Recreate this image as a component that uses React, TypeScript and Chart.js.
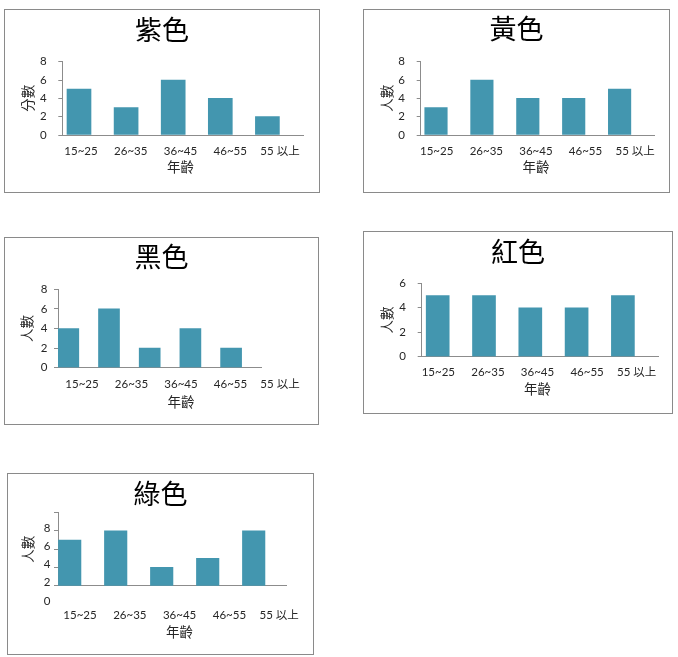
import React, { useEffect, useRef } from 'react';
import { Chart, registerables } from 'chart.js';

Chart.register(...registerables);

// ---- data ----
const ageGroups = ['15~25', '26~35', '36~45', '46~55', '55 以上'];
const purpleCounts = [5, 3, 6, 4, 2];
const yellowCounts = [3, 6, 4, 4, 5];
const blackCounts = [4, 6, 2, 4, 2];
const redCounts = [5, 5, 4, 4, 5];
const greenCounts = [7, 8, 4, 5, 8];
const ticksTo8 = [0, 2, 4, 6, 8];
const ticksTo6 = [0, 2, 4, 6];
const greenTicks = [0, 2, 4, 6, 8, 10];
const xTitle = '年齡';

// ---- styles ----
const BAR_COLOR = 'rgb(67,150,175)';
const AXIS_COLOR = '#8c8c8c';
const TEXT_COLOR = '#262626';
const LATIN = 'Lato, "Noto Sans CJK TC", sans-serif';
const CJK = '"Noto Sans CJK TC", "Noto Sans CJK SC", sans-serif';
const TITLE_SIZE = 27;
const TICK_SIZE = 11.5;
const AXIS_TITLE_SIZE = 13.5;

type PanelSpec = {
  title: string;
  yTitle: string;
  values: number[];
  yTicks: number[];
  yMin: number;
  yMax: number;
  yLabelMax?: number;
  yLabelShift: number;
  box: number[]; // l, t, r, b (page px)
  axis: { left: number; right: number; top: number; bottom: number };
  titleY: number;
  yTitleX: number;
  labelY: number;
  xTitleY: number;
  yLabelGap: number;
  barFirst: number;
  barStep: number;
  barWidth: number;
  labelFirst: number;
  labelStep: number;
};

const panels: PanelSpec[] = [
  {
    title: '紫色', yTitle: '分數', values: purpleCounts, yTicks: ticksTo8, yMin: 0, yMax: 8, yLabelShift: 0,
    box: [4, 9, 320, 193], axis: { left: 62.3, right: 303, top: 61.7, bottom: 135 },
    titleY: 29.5, yTitleX: 28, labelY: 151, xTitleY: 167, yLabelGap: 15.6,
    barFirst: 79, barStep: 47.1, barWidth: 24, labelFirst: 81, labelStep: 49.75,
  },
  {
    title: '黃色', yTitle: '人數', values: yellowCounts, yTicks: ticksTo8, yMin: 0, yMax: 8, yLabelShift: 0,
    box: [363, 9, 670, 193], axis: { left: 420.7, right: 654, top: 61.7, bottom: 135 },
    titleY: 29, yTitleX: 386.7, labelY: 151, xTitleY: 167, yLabelGap: 15.7,
    barFirst: 436, barStep: 45.9, barWidth: 22.5, labelFirst: 436.7, labelStep: 49.6,
  },
  {
    title: '黑色', yTitle: '人數', values: blackCounts, yTicks: ticksTo8, yMin: 0, yMax: 8, yLabelShift: 0,
    box: [4, 237, 319, 425], axis: { left: 58, right: 261.7, top: 289.3, bottom: 367.7 },
    titleY: 257, yTitleX: 26.7, labelY: 384, xTitleY: 401.7, yLabelGap: 10.7,
    barFirst: 68.3, barStep: 40.7, barWidth: 21, labelFirst: 82, labelStep: 49.5,
  },
  {
    title: '紅色', yTitle: '人數', values: redCounts, yTicks: ticksTo6, yMin: 0, yMax: 6, yLabelShift: 0,
    box: [363, 231, 673, 414], axis: { left: 421.7, right: 658.3, top: 283.3, bottom: 356.7 },
    titleY: 252, yTitleX: 386.7, labelY: 372.7, xTitleY: 389.3, yLabelGap: 15.7,
    barFirst: 437.7, barStep: 46.3, barWidth: 23, labelFirst: 438.3, labelStep: 49.6,
  },
  {
    title: '綠色', yTitle: '人數', values: greenCounts, yTicks: greenTicks, yMin: 2, yMax: 10, yLabelMax: 8, yLabelShift: -3,
    box: [7, 473, 314, 655], axis: { left: 58, right: 286.7, top: 512.7, bottom: 585.7 },
    titleY: 493.5, yTitleX: 28.3, labelY: 615, xTitleY: 631.7, yLabelGap: 7.6,
    barFirst: 69.7, barStep: 46, barWidth: 22.5, labelFirst: 80, labelStep: 49.8,
  },
];

function ChartPanel({ p }: { p: PanelSpec }) {
  const ref = useRef<HTMLCanvasElement>(null);
  const [l, t, r, b] = p.box;
  const ox = l + 1;
  const oy = t + 1;
  const cw = Math.round(r - l - 2);
  const ch = Math.round(b - t - 2);

  useEffect(() => {
    if (!ref.current) return;
    const axL = p.axis.left - ox;
    const axR = p.axis.right - ox;
    const axT = p.axis.top - oy;
    const axB = p.axis.bottom - oy;
    const plotW = axR - axL;

    const titleLH = TITLE_SIZE * 1.2;
    const titlePadTop = p.titleY - oy - titleLH / 2;
    const titlePadBottom = axT - titlePadTop - titleLH;

    const barMin = -(p.barFirst - p.axis.left) / p.barStep;
    const barMax = barMin + plotW / p.barStep;
    const labMin = -(p.labelFirst - p.axis.left) / p.labelStep;
    const labMax = labMin + plotW / p.labelStep;

    const tickLH = TICK_SIZE * 1.2;
    const axisTitleLH = AXIS_TITLE_SIZE * 1.2;
    const middleIndex = (ageGroups.length - 1) / 2;

    const xTitlePlugin = {
      id: 'xTitleUnderLabels',
      afterDraw(chart: any) {
        const s = chart.scales.xl;
        const ctx = chart.ctx;
        ctx.save();
        ctx.font = `${AXIS_TITLE_SIZE}px ${CJK}`;
        ctx.fillStyle = TEXT_COLOR;
        ctx.textAlign = 'center';
        ctx.textBaseline = 'middle';
        ctx.fillText(xTitle, s.getPixelForValue(middleIndex), p.xTitleY - oy);
        ctx.restore();
      },
    };

    const chart = new Chart(ref.current, {
      type: 'bar',
      data: {
        datasets: [
          {
            data: p.values.map((v, i) => ({ x: i, y: v })),
            backgroundColor: BAR_COLOR,
            barThickness: p.barWidth,
            xAxisID: 'x',
            yAxisID: 'y',
          },
        ],
      },
      plugins: [xTitlePlugin],
      options: {
        responsive: false,
        animation: false,
        layout: { padding: 0 },
        plugins: {
          legend: { display: false },
          tooltip: { enabled: false },
          title: {
            display: true,
            text: p.title,
            color: '#000000',
            font: { family: CJK, size: TITLE_SIZE, weight: 'normal' },
            padding: { top: titlePadTop, bottom: titlePadBottom },
          },
        },
        scales: {
          x: {
            type: 'linear',
            display: false,
            offset: false,
            min: barMin,
            max: barMax,
          },
          xl: {
            type: 'linear',
            position: 'bottom',
            weight: 1,
            offset: false,
            min: labMin,
            max: labMax,
            grid: { display: false, drawTicks: false },
            border: { display: true, color: AXIS_COLOR, width: 1 },
            afterBuildTicks: (s: any) => {
              s.ticks = ageGroups.map((_, i) => ({ value: i }));
            },
            afterFit: (s: any) => {
              s.height = ch - axB;
              s.paddingLeft = 0;
              s.paddingRight = 0;
            },
            ticks: {
              autoSkip: false,
              maxRotation: 0,
              minRotation: 0,
              padding: p.labelY - p.axis.bottom - tickLH / 2,
              color: TEXT_COLOR,
              font: { family: LATIN, size: TICK_SIZE },
              callback: (v: any) => ageGroups[Math.round(Number(v))] ?? '',
            },
          },
          rightGap: {
            type: 'linear',
            position: 'right',
            display: true,
            grid: { display: false, drawTicks: false },
            border: { display: false },
            ticks: { display: false },
            afterFit: (s: any) => {
              s.width = cw - axR;
            },
          },
          y: {
            type: 'linear',
            position: 'left',
            min: p.yMin,
            max: p.yMax,
            afterBuildTicks: (s: any) => {
              s.ticks = p.yTicks.map((v) => ({ value: v }));
            },
            afterFit: (s: any) => {
              s.width = axL;
            },
            grid: {
              drawOnChartArea: false,
              drawTicks: true,
              tickLength: 4,
              color: (c: any) => (c.tick && c.tick.value < p.yMin ? 'rgba(0,0,0,0)' : AXIS_COLOR),
            },
            border: { display: true, color: AXIS_COLOR, width: 1 },
            ticks: {
              autoSkip: false,
              padding: p.yLabelGap - 4,
              labelOffset: p.yLabelShift,
              color: TEXT_COLOR,
              font: { family: LATIN, size: TICK_SIZE },
              callback: (v: any) => (p.yLabelMax !== undefined && Number(v) > p.yLabelMax ? '' : String(v)),
            },
            title: {
              display: true,
              text: p.yTitle,
              color: TEXT_COLOR,
              font: { family: CJK, size: AXIS_TITLE_SIZE },
              padding: { top: p.yTitleX - ox - axisTitleLH / 2, bottom: 0 },
            },
          },
        },
      } as any,
    });
    return () => chart.destroy();
  }, []);

  return (
    <div
      style={{
        position: 'absolute',
        left: l,
        top: t,
        width: r - l,
        height: b - t,
        border: '1px solid #8a8a8a',
        boxSizing: 'border-box',
        background: '#ffffff',
      }}
    >
      <canvas ref={ref} width={cw} height={ch} style={{ display: 'block' }} />
    </div>
  );
}

export default function App() {
  return (
    <div style={{ position: 'absolute', left: 0, top: 0, width: 678, height: 657, background: '#ffffff' }}>
      {panels.map((p) => (
        <ChartPanel key={p.title} p={p} />
      ))}
    </div>
  );
}
